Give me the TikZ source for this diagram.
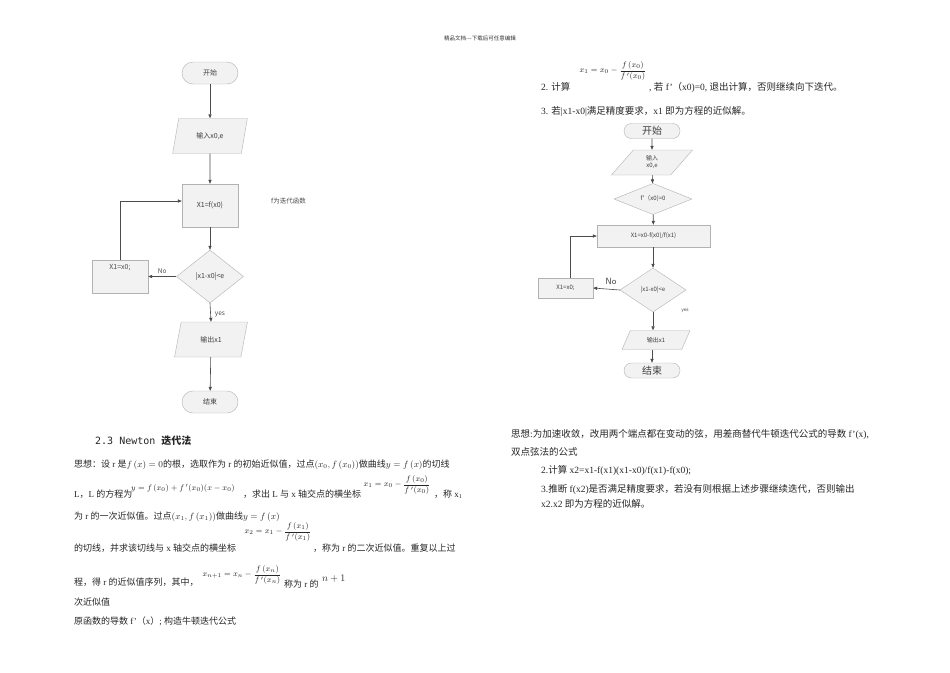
\documentclass[tikz,border=0pt]{standalone}
\usepackage{amsmath}
\usepackage{fontspec}
\setmainfont{Liberation Serif}
\newfontfamily\cjk{Noto Sans CJK SC}
\newfontfamily\monofam{DejaVu Sans Mono}
\usetikzlibrary{shapes.geometric,arrows.meta}
\newcommand{\zh}[1]{{\cjk #1}}
\tikzset{
  shp/.style={draw=black!30, fill=black!5, text=black!75, inner sep=0pt},
  term/.style={shp, rectangle, rounded corners=11pt, minimum width=56pt, minimum height=22pt, font=\cjk\fontsize{7}{8}\selectfont},
  termb/.style={shp, rectangle, rounded corners=7.5pt, minimum width=56pt, minimum height=15pt, font=\cjk\fontsize{10}{11}\selectfont},
  proc/.style={shp, rectangle, font=\cjk\fontsize{7}{8}\selectfont},
  procb/.style={shp, rectangle, font=\cjk\fontsize{6}{7}\selectfont},
  io/.style={shp, trapezium, trapezium left angle=70, trapezium right angle=110, trapezium stretches=true, font=\cjk\fontsize{7}{8}\selectfont},
  iob/.style={shp, trapezium, trapezium left angle=62, trapezium right angle=118, trapezium stretches=true, font=\cjk\fontsize{6}{7}\selectfont, align=center},
  dec/.style={shp, diamond, aspect=1, font=\cjk\fontsize{7}{8}\selectfont},
  decb/.style={shp, diamond, aspect=1, font=\cjk\fontsize{6}{7}\selectfont},
  arr/.style={draw=black!70, line width=0.6pt, -{Triangle[length=4pt,width=3.2pt]}},
  lbl/.style={text=black!70, inner sep=0pt},
  body/.style={anchor=base west, inner sep=0pt, text=black!85, font=\fontsize{9}{10}\selectfont},
  bodyb/.style={anchor=base west, inner sep=0pt, text=black!85, font=\fontsize{9.5}{11}\selectfont},
  frm/.style={inner sep=0pt, text=black!85, font=\fontsize{8.5}{10}\selectfont}
}
\begin{document}
\begin{tikzpicture}[x=1pt,y=-1pt]
\useasboundingbox[fill=white] (0,0) rectangle (950,672);

% header
\node[lbl, font=\cjk\fontsize{5.5}{6}\selectfont, text=black!80] (hdr) at (480,38) {精品文档---下载后可任意编辑};

% ---------- left flowchart ----------
\node[term] (s1) at (210,73) {开始};
\node[io, minimum width=75pt, minimum height=35pt] (i1) at (210,136) {输入x0,e};
\node[proc, minimum width=56pt, minimum height=43pt] (p1) at (210,205.5) {X1=f(x0)};
\node[dec, minimum width=67pt, minimum height=53pt] (d1) at (210,276.5) {|x1-x0|<e};
\node[proc, minimum width=56pt, minimum height=33pt] (b1) at (120,276.5) {};
\node[lbl, font=\cjk\fontsize{7}{8}\selectfont] (b1t) at (120,268) {X1=x0;};
\node[io, minimum width=73pt, minimum height=35pt] (o1) at (211,339.5) {输出x1};
\node[term] (e1) at (210,402) {结束};
\node[lbl, anchor=west, font=\cjk\fontsize{6.5}{8}\selectfont] (n1) at (271,201) {f为迭代函数};

\draw[arr] (s1) -- (i1);
\draw[arr] (i1) -- (p1);
\draw[arr] (p1) -- (d1);
\draw[arr] (d1.west) -- (b1.east) node[lbl, pos=0.5, above=3pt, font=\cjk\fontsize{6.5}{8}\selectfont] (no1) {No};
\draw[arr] (b1.north) |- ([yshift=4.5pt]p1.west);
\draw[arr] (d1.south) -- (o1.north) node[lbl, pos=0.6, right=4pt, font=\cjk\fontsize{6.5}{8}\selectfont] (y1) {yes};
\draw[arr] (o1) -- (e1);

% ---------- right top text ----------
\node[frm] (f0) at (613,71) {$x_1=x_0-\dfrac{f\,(x_0)}{f\,'(x_0)}$};
\node[bodyb] (t2a) at (541,90) {2. \zh{计算}};
\node[bodyb] (t2b) at (649,90) {, \zh{若} f'\zh{（}x0)=0, \zh{退出计算，否则继续向下迭代。}};
\node[bodyb] (t3) at (541,114) {3. \zh{若}|x1-x0|\zh{满足精度要求，}x1 \zh{即为方程的近似解。}};

% ---------- right flowchart ----------
\node[termb] (s2) at (652,131) {开始};
\node[iob, minimum width=81pt, minimum height=25pt] (i2) at (652,162.5) {输入\\x0,e};
\node[decb, minimum width=78pt, minimum height=18pt] (d2a) at (653,199) {f'（x0)=0};
\node[procb, minimum width=113pt, minimum height=22pt] (p2) at (653.5,236) {X1=x0-f(x0)/f(x1)};
\node[decb, minimum width=66pt, minimum height=44pt] (d2) at (653,290) {|x1-x0|<e};
\node[procb, minimum width=55pt, minimum height=20pt] (b2) at (565.5,288) {X1=x0;};
\node[iob, minimum width=68pt, minimum height=19pt] (o2) at (656,340) {输出x1};
\node[termb] (e2) at (652,370.5) {结束};

\draw[arr] (s2) -- (i2);
\draw[arr] (i2) -- (d2a);
\draw[arr] (d2a) -- (p2);
\draw[arr] (p2.south -| d2.north) -- (d2.north);
\draw[arr] (d2.west) -- (b2.east);
\node[lbl, font=\fontsize{9}{10}\selectfont\sffamily] (no2) at (611,281.5) {No};
\draw[arr] ([xshift=5pt]b2.north) |- (p2.west);
\draw[arr] (d2.south) -- (d2.south |- o2.north);
\node[lbl, font=\fontsize{5.5}{6}\selectfont\sffamily] (y2) at (685,311) {yes};
\draw[arr] (o2.south -| e2.north) -- (e2.north);

% ---------- left bottom text ----------
\node[anchor=base west, inner sep=0pt, text=black!85, font=\fontsize{10}{12}\selectfont] (h23) at (95,444) {\monofam 2.3 Newton \cjk\bfseries 迭代法};

\node[body] (l1) at (74,467) {\zh{思想：设} r \zh{是}$f\,(x)=0$\zh{的根，选取作为} r \zh{的初始近似值，过点}$(x_0,f\,(x_0))$\zh{做曲线}$y=f\,(x)$\zh{的切线}};
\node[body] (l2a) at (74,497) {L\zh{，}L \zh{的方程为}};
\node[body, font=\fontsize{8.5}{10}\selectfont] (l2f) at (131,490) {$y=f\,(x_0)+f\,'(x_0)(x-x_0)$};
\node[body] (l2b) at (243,497) {\zh{，求出} L \zh{与} x \zh{轴交点的横坐标}};
\node[frm] (l2g) at (397,485) {$x_1=x_0-\dfrac{f\,(x_0)}{f\,'(x_0)}$};
\node[body] (l2c) at (434,497) {\zh{，称} x\textsubscript{1}};
\node[body] (l3) at (74,519) {\zh{为} r \zh{的一次近似值。过点}$(x_1,f\,(x_1))$\zh{做曲线}$y=f\,(x)$};
\node[frm] (l3g) at (278,532) {$x_2=x_1-\dfrac{f\,(x_1)}{f\,'(x_1)}$};
\node[body] (l4a) at (74,551) {\zh{的切线，并求该切线与} x \zh{轴交点的横坐标}};
\node[body] (l4b) at (313,551) {\zh{，称为} r \zh{的二次近似值。重复以上过}};
\node[frm] (l5g) at (242,575) {$x_{n+1}=x_n-\dfrac{f\,(x_n)}{f\,'(x_n)}$};
\node[body] (l5a) at (74,585) {\zh{程，得} r \zh{的近似值序列，其中，}};
\node[body] (l5b) at (284,587) {\zh{称为} r \zh{的}};
\node[body, font=\fontsize{10}{11}\selectfont] (l5c) at (322,581) {$n+1$};
\node[body] (l6) at (74,605) {\zh{次近似值}};
\node[body] (l7) at (74,624) {\zh{原函数的导数} f'\zh{（}x\zh{）}; \zh{构造牛顿迭代公式}};

% ---------- right bottom text ----------
\node[bodyb] (r1) at (511,437) {\zh{思想}:\zh{为加速收敛，改用两个端点都在变动的弦，用差商替代牛顿迭代公式的导数} f'(x),};
\node[bodyb] (r2) at (511,455) {\zh{双点弦法的公式}};
\node[bodyb] (r3) at (541,473) {2.\zh{计算} x2=x1-f(x1)(x1-x0)/f(x1)-f(x0);};
\node[bodyb] (r4) at (541,492) {3.\zh{推断} f(x2)\zh{是否满足精度要求，若没有则根据上述步骤继续迭代，否则输出}};
\node[bodyb] (r5) at (541,507) {x2.x2 \zh{即为方程的近似解。}};
\end{tikzpicture}
\end{document}
